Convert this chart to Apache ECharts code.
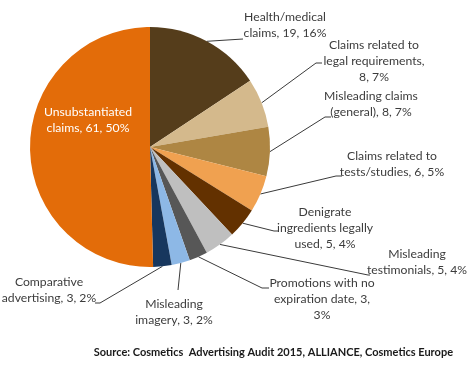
<!DOCTYPE html>
<html><head><meta charset="utf-8">
<script src="https://cdn.jsdelivr.net/npm/echarts@6/dist/echarts.min.js"></script>
<style>html,body{margin:0;padding:0;background:#fff}#c{width:470px;height:370px}</style>
</head><body><div id="c"></div>
<script>
// ---- data ----
var categories = ["Health/medical claims","Claims related to legal requirements","Misleading claims (general)","Claims related to tests/studies","Denigrate ingredients legally used","Misleading testimonials","Promotions with no expiration date","Misleading imagery","Comparative advertising","Unsubstantiated claims"];
var values = [19, 8, 8, 6, 5, 5, 3, 3, 3, 61];
var pctLabels = ["16%","7%","7%","5%","4%","4%","3%","2%","2%","50%"];
var labelTexts = [
  "Health/medical\nclaims, 19, 16%",
  "Claims related to\nlegal requirements,\n8, 7%",
  "Misleading claims\n(general), 8, 7%",
  "Claims related to\ntests/studies, 6, 5%",
  "Denigrate\ningredients legally\nused, 5, 4%",
  "Misleading\ntestimonials, 5, 4%",
  "Promotions with no\nexpiration date, 3,\n3%",
  "Misleading\nimagery, 3, 2%",
  "Comparative\nadvertising, 3, 2%",
  "Unsubstantiated\nclaims, 61, 50%"
];
var colors = ["#553D1B","#D4B98C","#AE8643","#F0A150","#633100","#BFBFBF","#575757","#8DB8E6","#17375E","#E36C09"];

// ---- layout ----
var CX = 150, CY = 147, R = 120;
// label centre x,y ; leader elbow x,y ; leader end x,y
var labelLayoutSpec = [
  [285, 25, 243, 39, 243, 39],
  [374, 61, 316, 63, 322, 63],
  [371, 104, 325, 117, 331, 117],
  [392, 164, 336, 176, 342, 176],
  [325, 228, 274, 231, 278, 231],
  [417, 262, 368, 275, 370, 275],
  [322, 299, 262, 288, 269, 288],
  [174, 312, 178, 290, 178, 290],
  [49, 290, 100, 303, 95, 303],
  [88, 120, 0, 0, 0, 0]
];
var total = values.reduce(function(a,b){return a+b;},0);
var cum = 0, midAngles = [];
values.forEach(function(v){ midAngles.push((cum + v/2)/total*2*Math.PI); cum += v; });

var chart = echarts.init(document.getElementById('c'));
chart.setOption({
  animation: false,
  title: {
    text: "Source: Cosmetics  Advertising Audit 2015, ALLIANCE, Cosmetics Europe",
    right: 17, top: 347, padding: 0,
    textStyle: {fontFamily: "Lato", fontWeight: "bold", fontSize: 11, color: "#1a1a1a"}
  },
  series: [{
    type: 'pie',
    center: [CX, CY],
    radius: [0, R],
    startAngle: 90,
    clockwise: true,
    avoidLabelOverlap: false,
    itemStyle: {borderWidth: 0},
    label: {
      show: true, position: 'outside',
      fontFamily: "Lato", fontSize: 12.2, lineHeight: 16, color: "#3c3c3c", align: 'center',
      formatter: function(p){ return labelTexts[p.dataIndex]; }
    },
    labelLine: {show: true, lineStyle: {color: "#3a3a3a", width: 1}},
    labelLayout: function(p){
      var i = p.dataIndex, s = labelLayoutSpec[i], a = midAngles[i];
      var sx = CX + R*Math.sin(a), sy = CY - R*Math.cos(a);
      var res = {x: s[0], y: s[1], align: 'center', verticalAlign: 'middle'};
      if (i === 9) { res.labelLinePoints = [[sx,sy],[sx,sy],[sx,sy]]; }
      else res.labelLinePoints = [[sx, sy],[s[2], s[3]],[s[4], s[5]]];
      return res;
    },
    data: values.map(function(v,i){
      var d = {name: categories[i], value: v, itemStyle: {color: colors[i]}};
      if (i === 9) { d.label = {color: '#ffffff'}; d.labelLine = {show: false}; }
      return d;
    })
  }]
});
</script></body></html>
